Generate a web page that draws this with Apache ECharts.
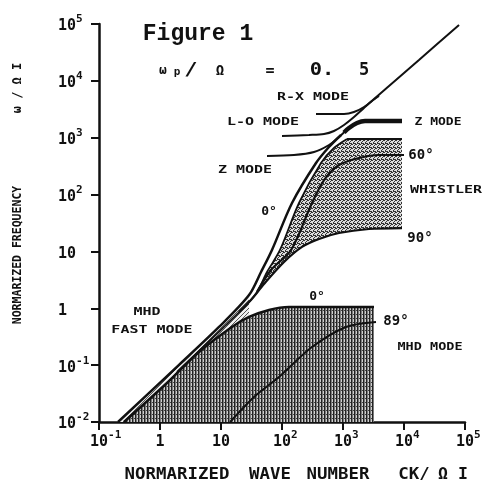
<!DOCTYPE html>
<html><head><meta charset="utf-8">
<script src="https://cdn.jsdelivr.net/npm/echarts@6/dist/echarts.min.js"></script>
<style>html,body{margin:0;padding:0;background:#fff}#c{width:484px;height:490px}</style>
</head><body><div id="c"></div>
<script>
// ---- tick labels ----
const tickExp  = [-2, -1, 0, 1, 2, 3, 4, 5];
const tickBase = ['10', '10', '1', '10', '10', '10', '10', '10'];
const tickSup  = ['-2', '-1', '', '', '2', '3', '4', '5'];

// ---- dispersion curves  [ck/Ωi , ω/Ωi] ----
const rxMode   = [[361,2610],[1040,2610],[1510,2830],[2210,3470],[3220,4800],[5680,8130],[17600,23300],[79800,96000]];
const loMode   = [[100,1072],[277,1117],[489,1162],[711,1313],[1038,1675],[1514,2312],[2207,3334],[2985,4424],[3890,5420]];
const zMode    = [[56.8,478],[157,497],[335,561],[589,745],[859,1030],[1253,1483],[1698,1816],[2296,1968],[9270,1968]];
const zUpper   = [[1038,1236],[1253,1483],[1698,1816],[2296,1968],[9270,1968]];
const fast0    = [[0.205,0.01],[2.05,0.101],[9.27,0.469],[28.8,1.71],[45.3,4.35],[68.5,10.6],[146,71.1],[361,359],[589,687],[927,1117]];
const whistler0= [[1.90,0.0759],[11.2,0.469],[36.1,1.71],[56.8,4.35],[92.7,10.6],[190,71.1],[436,359],[711,660],[1164,950]];
const resTop   = [[1164,950],[9270,950]];
const whistler60=[[38.9,1.94],[66.1,4.72],[141,10.6],[310,71.1],[489,180],[859,331],[1828,440],[3890,497],[10000,497]];
const whistler90=[[19.7,0.861],[31.0,1.40],[50.7,2.67],[108,6.52],[213,12.0],[404,16.6],[859,21.1],[2670,24.8],[9270,25.8]];
const mhd0     = [[0.257,0.01],[1.30,0.0485],[4.36,0.170],[15.1,0.469],[28.8,0.703],[61.2,0.933],[130,1.05],[3220,1.05]];
const mhd89    = [[14.1,0.01],[34.8,0.0275],[89.3,0.0619],[310,0.208],[1119,0.469],[3475,0.574]];
const mhdFloor = [[3220,0.01]];

// ---- shaded regions built from the curves ----
const whistlerRegion = [whistler90[0]].concat(whistler0.slice(2), resTop.slice(1), whistler90.slice().reverse());
const mhdRegion = mhd0.concat(mhdFloor);
const fastBand = fast0.slice(0,4).concat(mhd0.slice(0,5).reverse());

function makePattern(kind){
  const c = document.createElement('canvas');
  const g = c.getContext('2d');
  if (kind === 'hatch') {
    c.width = 3; c.height = 4;
    g.fillStyle = '#cfcfcf'; g.fillRect(0,0,3,4);
    g.fillStyle = '#222'; g.fillRect(0,0,1,4);
    g.fillStyle = '#7a7a7a'; g.fillRect(1,0,1,4);
    g.fillStyle = '#444'; g.fillRect(2,2,1,1);
  } else if (kind === 'stipple') {
    c.width = 4; c.height = 4;
    g.fillStyle = '#dcdcdc'; g.fillRect(0,0,4,4);
    g.fillStyle = '#333';
    [[0,0],[2,1],[1,2],[3,3],[3,0],[1,3],[2,3]].forEach(p=>g.fillRect(p[0],p[1],1,1));
  } else {
    c.width = 4; c.height = 4;
    g.fillStyle = '#eeeeee'; g.fillRect(0,0,4,4);
    g.fillStyle = '#555';
    [[0,0],[2,2],[3,1],[1,3]].forEach(p=>g.fillRect(p[0],p[1],1,1));
  }
  return {image: c, repeat: 'repeat'};
}
const regions = [
  {pts: mhdRegion, fill: makePattern('hatch')},
  {pts: fastBand, fill: makePattern('light')},
  {pts: whistlerRegion, fill: makePattern('stipple')}
];

const FONT = '"DejaVu Sans Mono", monospace';
function line(data, w, smooth){
  return {type:'line', data, symbol:'none', smooth: smooth===undefined?0.3:smooth,
    silent:true, z:5, lineStyle:{color:'#111', width:w}};
}
function T(text, x, y, o){
  o = o || {};
  return {type:'text', x, y, scaleX: o.sx||1, rotation: o.rot||0, z:100,
    style:{text, font: o.font || ('bold 10px ' + FONT), fill:'#111',
      textAlign: o.align||'center', textVerticalAlign:'middle'}};
}
function idx(v){ return tickExp.indexOf(Math.round(Math.log10(v))); }

const richCommon = {
  b: {fontFamily: FONT, fontWeight:'bold', fontSize:15, color:'#111', verticalAlign:'bottom'},
  s: {fontFamily: FONT, fontWeight:'bold', fontSize:11, color:'#111', verticalAlign:'bottom', padding:[0,0,9,0]},
  t: {fontFamily: FONT, fontWeight:'bold', fontSize:11, color:'rgba(0,0,0,0)', verticalAlign:'bottom', padding:[0,0,9,0]}
};

const chart = echarts.init(document.getElementById('c'));
chart.setOption({
  animation:false,
  backgroundColor:'#fff',
  grid:{left:99, right:19, top:24, bottom:68},
  xAxis:{type:'log', logBase:10, min:0.1, max:100000,
    axisLine:{lineStyle:{color:'#111', width:2.5}},
    axisTick:{length:8, lineStyle:{color:'#111', width:2}},
    splitLine:{show:false}, minorTick:{show:false},
    axisLabel:{margin:8, formatter: v => { const i = idx(v); const s = tickSup[i];
        return s ? `{t|${s}}{b|${tickBase[i]}}{s|${s}}` : `{t|0}{b|${tickBase[i]}}{t|0}`; },
      rich: richCommon}},
  yAxis:{type:'log', logBase:10, min:0.01, max:100000,
    axisLine:{lineStyle:{color:'#111', width:2.5}},
    axisTick:{length:8, lineStyle:{color:'#111', width:2}},
    splitLine:{show:false}, minorTick:{show:false},
    axisLabel:{margin:41, align:'left', formatter: v => { const i = idx(v); const s = tickSup[i];
        if (s) return `{b|${tickBase[i]}}{s|${s}}`;
        return tickBase[i] === '1' ? `{b|1}{t|00}` : `{b|${tickBase[i]}}{t|0}`; },
      rich: richCommon}},
  series:[
    {type:'custom', coordinateSystem:'cartesian2d', silent:true, z:1, clip:true,
      data: regions.map(() => [1,1]),
      renderItem: (params, api) => {
        const r = regions[params.dataIndex];
        return {type:'polygon', shape:{points: r.pts.map(p => api.coord(p))}, style:{fill: r.fill}};
      }},
    line(rxMode, 2),
    line(loMode, 2),
    line(zMode, 2),
    line(zUpper, 4.5),
    line(fast0, 2.5),
    line(whistler0, 1.8),
    line(resTop, 2, false),
    line(whistler60, 2.2),
    line(whistler90, 2.2),
    line(mhd0, 2.5),
    line(mhd89, 2)
  ],
  graphic:[
    T('Figure 1', 198, 34, {font:'bold 23px "Liberation Mono", monospace'}),
    T('ω', 163, 71, {font:'bold 13px ' + FONT}),
    T('p', 177, 72, {font:'bold 11px ' + FONT}),
    T('/', 191, 71, {font:'bold 17px ' + FONT, sx:1.3}),
    T('Ω', 220, 71, {font:'bold 14px ' + FONT}),
    T('=', 270, 71, {font:'bold 15px ' + FONT}),
    T('0.', 322, 71, {font:'bold 17px ' + FONT, sx:1.2}),
    T('5', 364, 71, {font:'bold 17px ' + FONT}),
    T('R-X MODE', 313, 97, {sx:1.5}),
    T('L-O MODE', 263, 122, {sx:1.5}),
    T('Z MODE', 438, 122, {sx:1.3}),
    T('Z MODE', 245, 170, {sx:1.5}),
    T('60°', 421, 155, {font:'bold 14px ' + FONT}),
    T('WHISTLER', 446, 190, {sx:1.5}),
    T('0°', 269, 212, {font:'bold 13px ' + FONT}),
    T('90°', 420, 238, {font:'bold 14px ' + FONT}),
    T('0°', 317, 297, {font:'bold 13px ' + FONT}),
    T('89°', 396, 321, {font:'bold 14px ' + FONT}),
    T('MHD', 147, 312, {sx:1.5}),
    T('FAST MODE', 152, 330, {sx:1.5}),
    T('MHD MODE', 430, 347, {sx:1.35}),
    T('NORMARIZED', 177, 475, {font:'bold 15px ' + FONT, sx:1.16}),
    T('WAVE', 270, 475, {font:'bold 15px ' + FONT, sx:1.16}),
    T('NUMBER', 338, 475, {font:'bold 15px ' + FONT, sx:1.16}),
    T('CK/', 414, 475, {font:'bold 15px ' + FONT, sx:1.16}),
    T('Ω I', 453, 475, {font:'bold 15px ' + FONT, sx:1.1}),
    T('NORMARIZED FREQUENCY', 18, 255, {font:'bold 11.5px ' + FONT, rot:Math.PI/2}),
    T('ω / Ω I', 18, 88, {font:'bold 12px ' + FONT, rot:Math.PI/2})
  ]
});
</script>
</body></html>
